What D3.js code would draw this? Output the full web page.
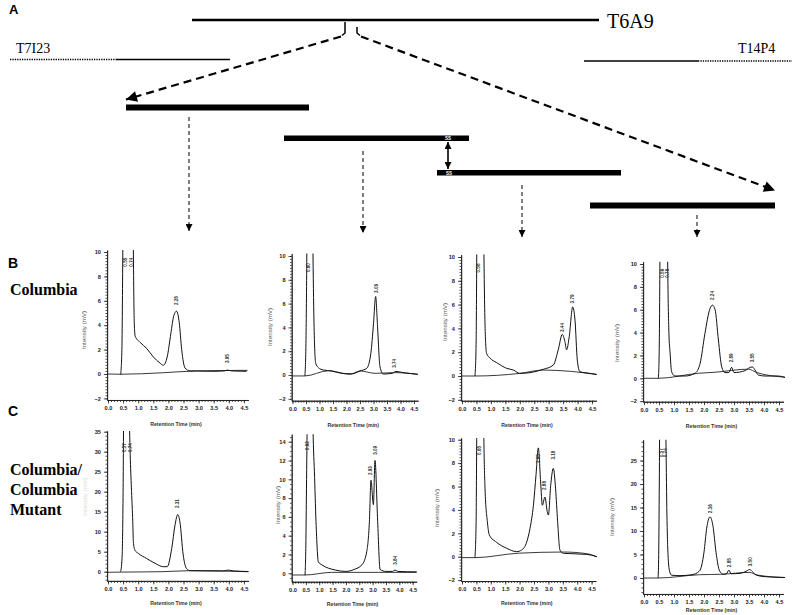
<!DOCTYPE html>
<html><head><meta charset="utf-8">
<script src="https://cdn.jsdelivr.net/npm/d3@7"></script>
<style>body{margin:0;background:#fff}svg{display:block}</style>
</head><body>
<svg id="fig" width="798" height="615"></svg>
<script>
// ================= DATA =================
const xTickValues = [0,0.5,1.0,1.5,2.0,2.5,3.0,3.5,4.0,4.5];
const xTickLabels = ["0.0","0.5","1.0","1.5","2.0","2.5","3.0","3.5","4.0","4.5"];
const yTicksTen = [-2,0,2,4,6,8,10];
const yTicksC1 = [0,5,10,15,20,25,30,35];
const yTicksC2 = [0,2,4,6,8,10,12,14];
const yTicksC4 = [0,5,10,15,20,25];
const cloneLabels = ["T6A9","T7I23","T14P4"];
const rowLabels = ["A","B","C"];
const rowNames = [["Columbia"],["Columbia/","Columbia","Mutant"]];

// [retention time (min), intensity (mV)]
const b1Signal = [[0.42,-0.05],[0.46,2],[0.49,10],[0.52,20],[0.62,40],[0.74,40],[0.81,20],[0.84,10],[0.87,4.2],[0.90,3.1],[1.06,2.6],[1.28,2.1],[1.50,1.4],[1.72,0.9],[1.83,0.72],[1.96,1.4],[2.08,3.3],[2.18,4.8],[2.27,5.15],[2.36,4.2],[2.44,2.0],[2.55,0.5],[2.72,0.25],[2.94,0.25],[3.5,0.22],[3.85,0.25],[3.95,0.32],[4.1,0.25],[4.59,0.22]];
const b1Baseline = [[-0.03,0],[0.42,-0.02],[1.8,0.1],[2.9,0.25],[4.62,0.3]];
const b2Signal = [[0.46,-0.08],[0.50,3],[0.53,10],[0.56,20],[0.65,40],[0.72,20],[0.76,10],[0.80,4],[0.86,0.98],[0.96,0.62],[1.14,0.42],[1.45,0.34],[1.82,0.14],[2.2,0.1],[2.5,0.34],[2.75,0.56],[2.9,1.8],[3.0,4.3],[3.08,6.6],[3.15,4.06],[3.24,0.7],[3.36,0.08],[3.7,0.15],[3.83,0.3],[4.1,0.2],[4.64,0.06]];
const b2Baseline = [[-0.03,-0.08],[0.46,-0.08],[1.33,0.36],[2.13,0.06],[2.5,0.34],[3.06,0.14],[3.8,0.2],[4.64,0.06]];
const b3Signal = [[0.45,0],[0.49,3],[0.51,10],[0.54,20],[0.64,40],[0.72,20],[0.76,10],[0.80,4],[0.85,1.9],[0.97,1.5],[1.2,1.12],[1.55,0.64],[1.78,0.5],[2.0,0.22],[2.35,0.28],[2.81,0.56],[3.16,0.92],[3.33,2.2],[3.47,3.5],[3.56,2.9],[3.62,2.2],[3.71,3.3],[3.83,5.8],[3.91,4.7],[3.99,1.34],[4.08,0.36],[4.43,0.22],[4.66,0.13]];
const b3Baseline = [[-0.03,0],[0.45,0],[2.0,0.22],[2.81,0.5],[3.76,0.39],[4.66,0.13]];
const b4Signal = [[0.48,0],[0.51,3],[0.53,10],[0.56,20],[0.66,40],[0.76,20],[0.79,10],[0.83,4],[0.87,2.2],[0.92,0.58],[1.03,0.2],[1.37,0.2],[1.7,0.44],[1.87,1.3],[2.03,3.9],[2.2,6.1],[2.28,6.4],[2.37,6.0],[2.48,3.35],[2.59,1.0],[2.7,0.5],[2.83,0.5],[2.92,0.96],[3.0,0.5],[3.37,0.67],[3.48,0.87],[3.61,1.0],[3.72,0.64],[3.81,0.29],[4.03,0.2],[4.48,0.2],[4.7,0.07]];
const b4Baseline = [[-0.03,0],[0.48,0],[1.82,0.44],[2.37,0.53],[3.48,0.8],[3.76,0.5],[4.7,0.1]];
const c1Signal = [[0.42,0],[0.47,4.2],[0.50,20],[0.52,40],[0.62,60],[0.70,40],[0.74,28],[0.78,20],[0.82,12.5],[0.84,7.5],[0.89,5.4],[1.0,4.6],[1.28,3.3],[1.56,2.1],[1.83,1.25],[1.96,1.25],[2.11,5.8],[2.22,11.7],[2.31,14.3],[2.38,12.5],[2.49,4.2],[2.6,0.8],[2.72,0.25],[3.82,0.2],[3.98,0.4],[4.15,0.2],[4.65,0.05]];
const c1Baseline = [[-0.03,-0.15],[0.42,-0.1],[1.78,0],[2.72,0.25],[4.65,0.0]];
const c2Signal = [[0.47,-0.2],[0.50,3],[0.52,8],[0.55,16],[0.65,30],[0.76,16],[0.79,13],[0.82,10.8],[0.88,5.5],[0.97,1.2],[1.1,0.9],[1.6,0.35],[2.0,0.2],[2.3,0.4],[2.6,0.9],[2.78,2.3],[2.88,5.5],[2.94,9.9],[3.03,7.3],[3.09,12.0],[3.19,5.5],[3.28,0.4],[3.5,0.2],[3.75,0.2],[3.84,0.35],[3.95,0.2],[4.65,0.15]];
const c2Baseline = [[-0.03,-0.18],[0.47,-0.18],[1.47,0.1],[2.34,0.1],[3.21,0.1],[4.65,0.1]];
const c3Signal = [[0.45,-0.08],[0.49,3],[0.51,10],[0.54,20],[0.64,40],[0.72,20],[0.76,10],[0.80,5.8],[0.88,3.0],[0.95,1.85],[1.2,1.23],[1.55,0.72],[1.9,0.43],[2.07,0.57],[2.25,1.28],[2.36,2.4],[2.48,4.4],[2.57,7.0],[2.65,9.3],[2.73,6.4],[2.79,4.4],[2.88,5.1],[2.96,3.85],[3.0,3.56],[3.08,6.1],[3.17,7.55],[3.25,5.8],[3.32,3.0],[3.4,0.57],[3.52,0.29],[4.33,0.2],[4.68,0]];
const c3Baseline = [[-0.03,-0.08],[0.45,-0.08],[1.96,0.3],[3.52,0.4],[4.33,0.26],[4.68,0]];
const c4Signal = [[0.47,0],[0.49,5],[0.51,20],[0.53,40],[0.62,80],[0.70,40],[0.73,30],[0.76,15],[0.80,5],[0.85,1.5],[0.92,0.6],[1.2,0.5],[1.6,0.7],[1.85,1.5],[2.0,5.5],[2.09,10.6],[2.2,13.0],[2.3,11.0],[2.4,5.5],[2.52,1.5],[2.65,0.8],[2.75,0.9],[2.83,1.7],[2.9,0.9],[3.2,1.0],[3.4,1.4],[3.52,1.8],[3.62,1.3],[3.75,0.6],[4.0,0.3],[4.7,0.1]];
const c4Baseline = [[-0.03,0],[0.47,0],[1.85,0.7],[2.6,0.8],[3.5,1.2],[3.8,0.6],[4.7,0.1]];

// peak annotations: [time, intensity at label start, label]
const b1Peaks = [[0.56,8.8,"0.55"],[0.78,8.8,"0.74"],[2.27,5.65,"2.28"],[3.96,0.9,"3.95"]];
const b2Peaks = [[0.59,8.65,"0.60"],[3.09,6.9,"3.06"],[3.77,0.6,"3.74"]];
const b3Peaks = [[0.56,8.7,"0.58"],[3.48,3.7,"3.44"],[3.83,6.1,"3.79"]];
const b4Peaks = [[0.62,8.8,"0.56"],[0.78,8.8,"0.76"],[2.28,6.85,"2.24"],[2.92,1.4,"2.89"],[3.62,1.4,"3.55"]];
const c1Peaks = [[0.54,29.9,"0.57"],[0.73,29.9,"0.74"],[2.31,15.9,"2.31"]];
const c2Peaks = [[0.57,13.1,"0.62"],[2.93,10.45,"2.93"],[3.12,12.6,"3.09"],[3.84,0.9,"3.84"]];
const c3Peaks = [[0.60,8.7,"0.65"],[2.65,8.0,"2.65"],[2.86,5.7,"2.88"],[3.17,8.3,"3.18"]];
const c4Peaks = [[0.57,25.7,"0.57"],[0.70,25.7,"0.74"],[2.2,13.8,"2.16"],[2.85,2.3,"2.85"],[3.55,2.5,"3.50"]];

// ================= LAYOUT =================
const panels = [
 {sig:b1Signal, base:b1Baseline, peaks:b1Peaks, x0:108, ppm:30.2, y0:374, ppu:12.2, yMin:-2.13, yMax:10.16, ticks:yTicksTen, minor:0.25, labX:84, labY:330, labC:"#555", tdy:26},
 {sig:b2Signal, base:b2Baseline, peaks:b2Peaks, x0:292.5, ppm:27, y0:375, ppu:11.9, yMin:-2.16, yMax:10.2, ticks:yTicksTen, minor:0.25, labX:270, labY:327, labC:"#555", tdy:26},
 {sig:b3Signal, base:b3Baseline, peaks:b3Peaks, x0:462, ppm:28.9, y0:376, ppu:11.9, yMin:-2.08, yMax:10.2, ticks:yTicksTen, minor:0.25, labX:445, labY:322, labC:"#555", tdy:26},
 {sig:b4Signal, base:b4Baseline, peaks:b4Peaks, x0:644, ppm:30, y0:378.3, ppu:11.43, yMin:-2.05, yMax:10.2, ticks:yTicksTen, minor:0.25, labX:617, labY:343, labC:"#555", tdy:26},
 {sig:c1Signal, base:c1Baseline, peaks:c1Peaks, x0:108, ppm:30.2, y0:571.7, ppu:4, yMin:-2.3, yMax:35.2, ticks:yTicksC1, minor:1, labX:85, labY:497, labC:"#d8d8d8", tdy:24},
 {sig:c2Signal, base:c2Baseline, peaks:c2Peaks, x0:292.5, ppm:26.7, y0:573.3, ppu:9.4, yMin:-0.9, yMax:14.8, ticks:yTicksC2, minor:0.5, labX:278, labY:505, labC:"#555", tdy:24},
 {sig:c3Signal, base:c3Baseline, peaks:c3Peaks, x0:462, ppm:28.8, y0:556.7, ppu:11.7, yMin:-2.08, yMax:10.15, ticks:yTicksTen, minor:0.25, labX:437, labY:508, labC:"#555", tdy:24},
 {sig:c4Signal, base:c4Baseline, peaks:c4Peaks, x0:644, ppm:30, y0:578, ppu:4.7, yMin:-3.4, yMax:29.4, ticks:yTicksC4, minor:1, labX:612, labY:517, labC:"#555", tdy:18.5}
];

const svg = d3.select("#fig");
svg.append("rect").attr("width",798).attr("height",615).attr("fill","#fff");
const defs = svg.append("defs");
function marker(id, w, h){
  defs.append("marker").attr("id",id).attr("viewBox","0 0 10 10").attr("refX",10).attr("refY",5)
    .attr("markerUnits","userSpaceOnUse").attr("markerWidth",w).attr("markerHeight",h)
    .attr("orient","auto-start-reverse")
    .append("path").attr("d","M0,0 L10,5 L0,10 Z").attr("fill","#000");
}
marker("big",15,11);
marker("small",8,7);

const serif = "'Liberation Serif','Times New Roman',serif";
const sans = "'Liberation Sans',Arial,sans-serif";
const narrow = "'Liberation Sans Narrow','Liberation Sans',Arial,sans-serif";

// ---------- Panel A diagram ----------
const diag = svg.append("g");
diag.append("line").attr("x1",192).attr("x2",599).attr("y1",20).attr("y2",20).attr("stroke","#000").attr("stroke-width",2.6);
diag.append("text").attr("x",607).attr("y",28).attr("font-family",serif).attr("font-size",20).text(cloneLabels[0]);
diag.append("text").attr("x",16).attr("y",53).attr("font-family",serif).attr("font-size",14).text(cloneLabels[1]);
diag.append("line").attr("x1",10).attr("x2",116).attr("y1",59.5).attr("y2",59.5).attr("stroke","#000").attr("stroke-width",1.6).attr("stroke-dasharray","1.3,1.1");
diag.append("line").attr("x1",116).attr("x2",230).attr("y1",59.5).attr("y2",59.5).attr("stroke","#000").attr("stroke-width",1.6);
diag.append("text").attr("x",738).attr("y",53).attr("font-family",serif).attr("font-size",14).text(cloneLabels[2]);
diag.append("line").attr("x1",584).attr("x2",698).attr("y1",61).attr("y2",61).attr("stroke","#000").attr("stroke-width",1.6);
diag.append("line").attr("x1",698).attr("x2",792).attr("y1",61).attr("y2",61).attr("stroke","#000").attr("stroke-width",1.6).attr("stroke-dasharray","1.3,1.1");
diag.append("path").attr("d","M345,22 V33 L342,35.5").attr("fill","none").attr("stroke","#000").attr("stroke-width",1.5);
diag.append("path").attr("d","M357,27 V33 L360,35.5").attr("fill","none").attr("stroke","#000").attr("stroke-width",1.5);
diag.append("line").attr("x1",341).attr("y1",36.5).attr("x2",126).attr("y2",99.5).attr("stroke","#000").attr("stroke-width",2.2).attr("stroke-dasharray","8,5").attr("marker-end","url(#big)");
diag.append("line").attr("x1",361).attr("y1",36.5).attr("x2",775).attr("y2",190.5).attr("stroke","#000").attr("stroke-width",2.2).attr("stroke-dasharray","8,5").attr("marker-end","url(#big)");
const bars = [[126,309,104.5,6],[284,469,135.5,5.5],[437,621,170,5.5],[590,775,202.5,6]];
diag.selectAll("rect.bar").data(bars).join("rect").attr("class","bar")
  .attr("x",d=>d[0]).attr("width",d=>d[1]-d[0]).attr("y",d=>d[2]).attr("height",d=>d[3]).attr("fill","#000");
diag.append("text").attr("x",448).attr("y",140.3).attr("text-anchor","middle").attr("font-family",sans).attr("font-size",4.5).attr("font-weight","bold").attr("fill","#fff").text("SS");
diag.append("text").attr("x",449).attr("y",174.6).attr("text-anchor","middle").attr("font-family",sans).attr("font-size",4.5).attr("font-weight","bold").attr("fill","#fff").text("SS");
diag.append("line").attr("x1",448).attr("x2",448).attr("y1",142).attr("y2",169).attr("stroke","#000").attr("stroke-width",1.6)
  .attr("marker-start","url(#small)").attr("marker-end","url(#small)");
const vArrows = [[189,117,231],[363,151,233],[522,185,237],[697,215,237]];
diag.selectAll("line.va").data(vArrows).join("line").attr("class","va")
  .attr("x1",d=>d[0]).attr("x2",d=>d[0]).attr("y1",d=>d[1]).attr("y2",d=>d[2])
  .attr("stroke","#000").attr("stroke-width",1).attr("stroke-dasharray","4,3").attr("marker-end","url(#small)");

svg.append("text").attr("x",9).attr("y",13.5).attr("font-family",sans).attr("font-weight","bold").attr("font-size",13).text(rowLabels[0]);
svg.append("text").attr("x",8).attr("y",268).attr("font-family",sans).attr("font-weight","bold").attr("font-size",14).text(rowLabels[1]);
svg.append("text").attr("x",8).attr("y",416).attr("font-family",sans).attr("font-weight","bold").attr("font-size",14).text(rowLabels[2]);
svg.append("text").attr("x",10).attr("y",295).attr("font-family",serif).attr("font-weight","bold").attr("font-size",16).text(rowNames[0][0]);
rowNames[1].forEach((t,i)=>svg.append("text").attr("x",10).attr("y",475+i*20).attr("font-family",serif).attr("font-weight","bold").attr("font-size",16).text(t));

// ---------- chromatograms ----------
panels.forEach((p,i)=>{
  const x = d3.scaleLinear().domain([-0.03,4.65]).range([p.x0-0.03*p.ppm, p.x0+4.65*p.ppm]);
  const y = d3.scaleLinear().domain([p.yMin,p.yMax]).range([p.y0-p.yMin*p.ppu, p.y0-p.yMax*p.ppu]);
  const axisY = y(p.yMin), axisX = x(-0.03), topY = y(p.yMax);
  const g = svg.append("g");
  const cid = "clip"+i;
  defs.append("clipPath").attr("id",cid).append("rect")
    .attr("x",axisX).attr("y",topY).attr("width",x(4.65)-axisX+3).attr("height",axisY-topY);

  const gxMinor = g.append("g").attr("transform",`translate(0,${axisY})`)
    .call(d3.axisBottom(x).tickValues(d3.range(0,46).map(k=>k/10)).tickSize(2).tickSizeOuter(0).tickFormat(""));
  const gx = g.append("g").attr("transform",`translate(0,${axisY})`)
    .call(d3.axisBottom(x).tickValues(xTickValues).tickSize(3.5).tickSizeOuter(0).tickPadding(2.5).tickFormat((d,k)=>xTickLabels[k]));
  gx.selectAll("text").attr("font-family",narrow).attr("font-size",5.6).attr("font-weight","bold").attr("fill","#222");
  [gxMinor,gx].forEach(a=>{a.selectAll("line").attr("stroke","#222").attr("stroke-width",0.8);a.select(".domain").attr("stroke","#222").attr("stroke-width",0.9);});
  const minorVals = d3.range(Math.ceil(p.yMin/p.minor), Math.floor(p.yMax/p.minor)+1).map(k=>k*p.minor);
  const gyMinor = g.append("g").attr("transform",`translate(${axisX},0)`)
    .call(d3.axisLeft(y).tickValues(minorVals).tickSize(1.6).tickSizeOuter(0).tickFormat(""));
  const gy = g.append("g").attr("transform",`translate(${axisX},0)`)
    .call(d3.axisLeft(y).tickValues(p.ticks).tickSize(3.2).tickSizeOuter(0).tickPadding(3).tickFormat(d3.format("d")));
  gy.selectAll("text").attr("font-family",narrow).attr("font-size",5.6).attr("font-weight","bold").attr("fill","#222");
  [gyMinor,gy].forEach(a=>{a.selectAll("line").attr("stroke","#222").attr("stroke-width",0.8);a.select(".domain").attr("stroke","#222").attr("stroke-width",0.9);});

  g.append("text").attr("x",(x(0)+x(4.5))/2).attr("y",axisY+p.tdy).attr("text-anchor","middle")
    .attr("font-family",narrow).attr("font-size",5.2).attr("font-weight","bold").attr("fill","#333").text("Retention Time (min)");
  g.append("text").attr("transform",`translate(${p.labX},${p.labY}) rotate(-90)`).attr("text-anchor","middle")
    .attr("font-family",sans).attr("font-size",6.2).attr("fill",p.labC).attr("dy","0.35em").text("Intensity (mV)");

  const line = d3.line().x(d=>x(d[0])).y(d=>y(d[1])).curve(d3.curveMonotoneX);
  g.append("path").datum(p.base).attr("d",line).attr("fill","none").attr("stroke","#222").attr("stroke-width",0.9).attr("clip-path",`url(#${cid})`);
  g.append("path").datum(p.sig).attr("d",line).attr("fill","none").attr("stroke","#111").attr("stroke-width",1).attr("clip-path",`url(#${cid})`);

  g.selectAll("text.pk").data(p.peaks).join("text").attr("class","pk")
    .attr("transform",d=>`translate(${x(d[0])},${y(d[1])}) rotate(-90)`)
    .attr("dy","0.35em").attr("font-family",narrow).attr("font-size",4.6).attr("font-weight","bold").attr("fill","#333")
    .text(d=>d[2]);
});
</script>
</body></html>
